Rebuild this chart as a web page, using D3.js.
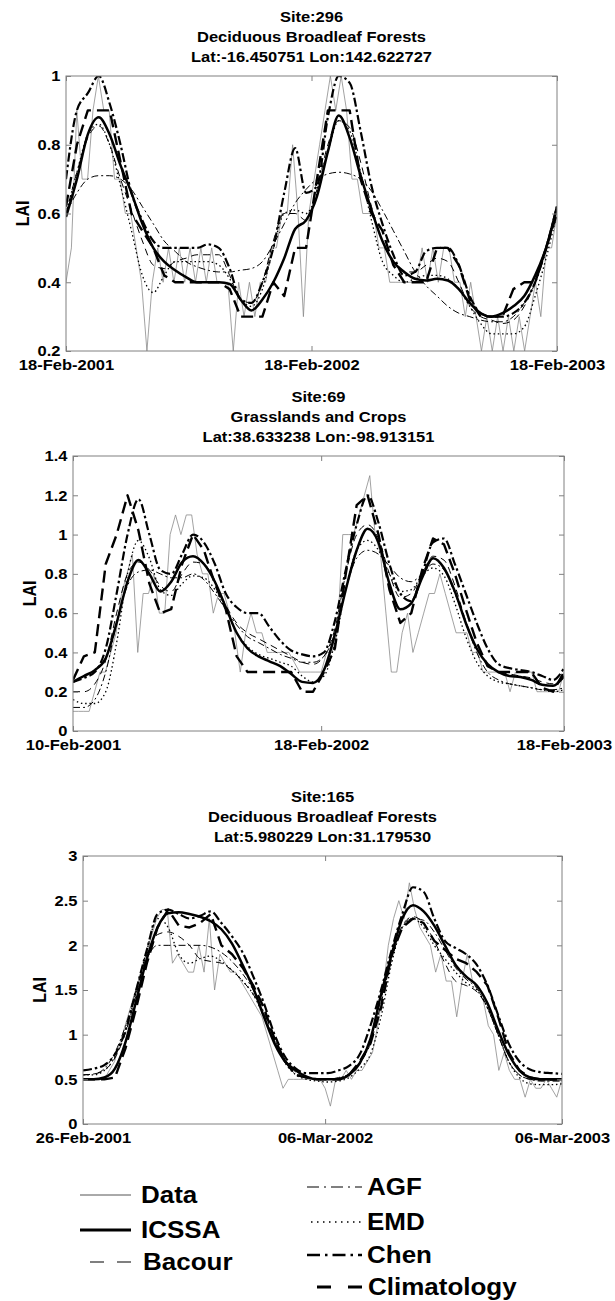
<!DOCTYPE html>
<html><head><meta charset="utf-8">
<script src="https://cdn.jsdelivr.net/npm/d3@7"></script>
<style>
body{margin:0;background:#fff}
text{font-family:"Liberation Sans",Arial,Helvetica,sans-serif;font-weight:bold;fill:#000}
</style>
</head><body>
<svg id="chart" width="615" height="1301"></svg>
<script>
// ---------------- DATA ----------------
const seriesNames = ["Data","ICSSA","Bacour","AGF","EMD","Chen","Climatology"];

// Panel 1
const p1_title = ["Site:296","Deciduous Broadleaf Forests","Lat:-16.450751 Lon:142.622727"];
const p1_xticks = ["2001-02-18","2002-02-18","2003-02-18"];
const p1_yticks = [0.2,0.4,0.6,0.8,1];
const p1_ydomain = [0.2,1];
const p1_data = [0.4,0.5,0.9,0.7,0.7,0.9,1.0,0.9,0.9,0.7,0.7,0.6,0.6,0.5,0.4,0.2,0.4,0.5,0.4,0.5,0.4,0.5,0.4,0.5,0.4,0.5,0.4,0.5,0.4,0.4,0.4,0.2,0.4,0.3,0.4,0.3,0.4,0.4,0.5,0.5,0.6,0.6,0.8,0.6,0.3,0.6,0.7,0.8,0.9,1.0,0.9,1.0,0.9,0.7,0.7,0.6,0.6,0.6,0.5,0.5,0.4,0.4,0.4,0.4,0.4,0.4,0.5,0.4,0.5,0.4,0.5,0.5,0.4,0.4,0.3,0.4,0.3,0.2,0.3,0.2,0.3,0.2,0.3,0.2,0.3,0.2,0.3,0.4,0.3,0.5,0.5,0.6];
const p1_icssa = [0.59,0.70,0.83,0.88,0.83,0.74,0.66,0.57,0.50,0.46,0.435,0.415,0.40,0.40,0.40,0.395,0.35,0.318,0.35,0.40,0.47,0.555,0.58,0.65,0.78,0.885,0.82,0.71,0.61,0.52,0.46,0.43,0.41,0.405,0.41,0.405,0.38,0.34,0.31,0.30,0.31,0.33,0.36,0.42,0.50,0.62];
const p1_bacour = [0.60,0.72,0.82,0.855,0.80,0.70,0.61,0.52,0.45,0.44,0.46,0.47,0.48,0.48,0.48,0.42,0.35,0.34,0.40,0.52,0.60,0.60,0.58,0.67,0.80,0.87,0.85,0.75,0.62,0.52,0.46,0.43,0.43,0.45,0.47,0.46,0.40,0.33,0.30,0.29,0.28,0.29,0.33,0.40,0.50,0.62];
const p1_agf = [0.60,0.66,0.70,0.71,0.71,0.70,0.67,0.62,0.57,0.52,0.49,0.46,0.445,0.435,0.43,0.43,0.435,0.44,0.46,0.51,0.57,0.63,0.67,0.70,0.715,0.72,0.715,0.70,0.665,0.61,0.55,0.49,0.43,0.39,0.36,0.33,0.31,0.30,0.29,0.285,0.285,0.30,0.34,0.40,0.49,0.61];
const p1_emd = [0.60,0.72,0.83,0.86,0.80,0.68,0.55,0.42,0.37,0.42,0.46,0.46,0.46,0.46,0.45,0.41,0.35,0.33,0.38,0.50,0.60,0.61,0.60,0.66,0.78,0.87,0.84,0.72,0.58,0.46,0.42,0.40,0.41,0.42,0.42,0.41,0.38,0.33,0.28,0.25,0.25,0.25,0.27,0.36,0.47,0.60];
const p1_chen = [0.70,0.90,0.95,1.0,0.92,0.80,0.66,0.58,0.52,0.50,0.50,0.50,0.50,0.51,0.50,0.44,0.35,0.34,0.40,0.50,0.66,0.79,0.66,0.68,0.88,1.0,0.98,0.84,0.68,0.57,0.48,0.42,0.43,0.49,0.50,0.50,0.45,0.36,0.31,0.30,0.30,0.31,0.34,0.40,0.50,0.62];
const p1_clim = [0.62,0.8,0.9,0.9,0.9,0.75,0.6,0.55,0.5,0.42,0.4,0.4,0.4,0.4,0.4,0.38,0.3,0.3,0.3,0.4,0.36,0.5,0.5,0.7,0.9,0.9,0.9,0.7,0.6,0.55,0.45,0.4,0.4,0.4,0.5,0.5,0.45,0.35,0.3,0.3,0.3,0.38,0.4,0.4,0.5,0.6];

// Panel 2
const p2_title = ["Site:69","Grasslands and Crops","Lat:38.633238 Lon:-98.913151"];
const p2_xticks = ["2001-02-10","2002-02-18","2003-02-18"];
const p2_yticks = [0,0.2,0.4,0.6,0.8,1,1.2,1.4];
const p2_ydomain = [0,1.4];
const p2_data = [0.1,0.1,0.1,0.1,0.2,0.3,0.3,0.4,0.5,0.7,0.8,0.9,0.4,0.7,0.7,0.8,0.6,0.6,1.0,1.1,1.0,1.1,1.1,0.9,0.8,0.8,0.6,0.7,0.7,0.6,0.5,0.3,0.5,0.6,0.5,0.5,0.4,0.4,0.4,0.4,0.4,0.35,0.3,0.3,0.3,0.3,0.3,0.4,0.4,0.5,1.0,1.0,1.0,1.1,1.2,1.3,1.0,0.9,0.6,0.3,0.3,0.5,0.6,0.4,0.5,0.6,0.7,0.7,0.8,0.7,0.6,0.5,0.5,0.5,0.4,0.4,0.3,0.3,0.3,0.3,0.3,0.2,0.3,0.3,0.3,0.3,0.2,0.2,0.2,0.2,0.2,0.3];
const p2_icssa = [0.25,0.28,0.31,0.37,0.55,0.76,0.87,0.80,0.71,0.76,0.86,0.89,0.85,0.76,0.63,0.50,0.42,0.38,0.355,0.33,0.29,0.25,0.245,0.31,0.49,0.72,0.92,1.03,0.96,0.75,0.62,0.65,0.78,0.88,0.83,0.71,0.55,0.42,0.34,0.30,0.28,0.275,0.26,0.235,0.23,0.28];
const p2_bacour = [0.20,0.20,0.24,0.36,0.60,0.80,0.86,0.82,0.74,0.71,0.80,0.86,0.85,0.76,0.64,0.55,0.50,0.47,0.44,0.41,0.38,0.35,0.34,0.38,0.52,0.80,1.00,1.05,0.98,0.80,0.68,0.70,0.80,0.89,0.87,0.74,0.56,0.42,0.34,0.30,0.29,0.28,0.27,0.25,0.24,0.27];
const p2_agf = [0.12,0.12,0.16,0.30,0.55,0.74,0.81,0.82,0.80,0.78,0.78,0.80,0.77,0.70,0.62,0.54,0.48,0.45,0.42,0.39,0.37,0.35,0.35,0.38,0.50,0.72,0.88,0.92,0.90,0.84,0.78,0.76,0.80,0.85,0.82,0.70,0.55,0.40,0.30,0.26,0.24,0.23,0.22,0.21,0.21,0.22];
const p2_emd = [0.16,0.14,0.14,0.20,0.45,0.80,0.97,0.88,0.72,0.69,0.75,0.79,0.78,0.72,0.62,0.50,0.43,0.39,0.37,0.35,0.33,0.28,0.25,0.28,0.45,0.72,0.92,0.97,0.92,0.80,0.71,0.72,0.79,0.83,0.79,0.65,0.48,0.35,0.28,0.25,0.24,0.23,0.22,0.21,0.20,0.21];
const p2_chen = [0.25,0.27,0.30,0.42,0.70,1.00,1.18,1.00,0.82,0.80,0.90,1.00,0.96,0.85,0.70,0.63,0.60,0.60,0.53,0.46,0.41,0.39,0.38,0.40,0.56,0.82,1.05,1.20,1.06,0.85,0.70,0.66,0.80,0.96,0.98,0.85,0.70,0.55,0.42,0.34,0.32,0.31,0.30,0.28,0.26,0.32];
const p2_clim = [0.26,0.38,0.40,0.85,1.00,1.20,1.02,0.75,0.60,0.62,0.85,1.00,0.92,0.75,0.62,0.38,0.30,0.30,0.30,0.30,0.30,0.20,0.20,0.30,0.42,0.80,1.15,1.20,1.00,0.72,0.55,0.60,0.82,0.98,0.95,0.80,0.62,0.45,0.33,0.30,0.30,0.30,0.30,0.22,0.20,0.30];

// Panel 3
const p3_title = ["Site:165","Deciduous Broadleaf Forests","Lat:5.980229 Lon:31.179530"];
const p3_xticks = ["2001-02-26","2002-03-06","2003-03-06"];
const p3_yticks = [0,0.5,1,1.5,2,2.5,3];
const p3_ydomain = [0,3];
const p3_data = [0.5,0.5,0.5,0.5,0.5,0.6,0.7,0.9,1.1,1.3,1.5,1.7,1.9,2.1,2.3,2.4,2.4,1.8,1.9,1.8,1.7,1.7,2.0,1.7,2.3,1.5,1.9,1.8,1.7,1.7,1.6,1.5,1.4,1.3,1.2,1.0,0.8,0.6,0.4,0.5,0.5,0.5,0.5,0.5,0.5,0.5,0.4,0.2,0.5,0.5,0.6,0.5,0.6,0.6,0.7,0.8,1.1,1.5,2.0,2.3,2.5,2.3,2.7,2.4,2.2,2.1,2.0,1.7,1.9,1.6,1.6,1.2,1.6,1.9,1.6,1.5,1.4,1.1,1.0,0.6,0.8,0.6,0.5,0.5,0.3,0.5,0.4,0.4,0.5,0.4,0.3,0.5];
const p3_icssa = [0.50,0.50,0.52,0.62,0.92,1.38,1.85,2.20,2.36,2.37,2.35,2.32,2.27,2.18,2.02,1.78,1.52,1.20,0.90,0.70,0.60,0.53,0.50,0.50,0.50,0.55,0.68,0.95,1.45,1.90,2.30,2.45,2.38,2.22,2.00,1.78,1.65,1.55,1.35,1.05,0.78,0.60,0.52,0.50,0.50,0.50];
const p3_bacour = [0.55,0.56,0.60,0.74,1.02,1.45,1.90,2.12,2.15,2.10,2.00,1.85,1.82,1.80,1.72,1.60,1.45,1.22,0.92,0.68,0.56,0.52,0.50,0.50,0.52,0.56,0.68,0.90,1.35,1.85,2.22,2.32,2.25,2.05,1.80,1.60,1.55,1.48,1.30,1.00,0.70,0.55,0.50,0.49,0.49,0.50];
const p3_agf = [0.55,0.56,0.62,0.80,1.10,1.50,1.85,2.00,2.00,2.00,2.00,2.00,1.98,1.92,1.82,1.68,1.50,1.25,0.95,0.72,0.58,0.52,0.50,0.50,0.51,0.56,0.68,0.95,1.40,1.85,2.20,2.30,2.28,2.15,1.95,1.75,1.62,1.52,1.30,1.00,0.70,0.55,0.50,0.48,0.48,0.48];
const p3_emd = [0.55,0.55,0.60,0.75,1.05,1.48,1.95,2.30,2.20,1.90,1.80,1.85,1.88,1.82,1.72,1.60,1.45,1.20,0.92,0.68,0.55,0.50,0.48,0.47,0.48,0.52,0.62,0.78,1.20,1.80,2.20,2.30,2.20,2.00,1.85,1.70,1.58,1.50,1.30,1.00,0.70,0.52,0.45,0.44,0.44,0.45];
const p3_chen = [0.60,0.62,0.66,0.78,1.05,1.50,1.95,2.35,2.40,2.35,2.30,2.33,2.38,2.25,2.10,1.92,1.65,1.35,1.00,0.75,0.62,0.57,0.57,0.57,0.60,0.65,0.78,1.10,1.50,1.95,2.35,2.65,2.60,2.30,2.05,1.97,1.90,1.78,1.55,1.22,0.90,0.70,0.61,0.58,0.57,0.56];
const p3_clim = [0.50,0.50,0.50,0.52,0.85,1.30,1.80,2.20,2.40,2.22,2.20,2.25,2.35,2.00,1.90,1.75,1.55,1.30,0.95,0.70,0.55,0.52,0.50,0.50,0.50,0.55,0.70,0.90,1.30,1.90,2.20,2.30,2.25,2.05,1.95,1.85,1.80,1.70,1.55,1.20,0.80,0.60,0.52,0.50,0.50,0.50];

// ---------------- LAYOUT / STYLE ----------------
const panels = [
  {title:p1_title, xt:p1_xticks, yt:p1_yticks, yd:p1_ydomain,
   series:[p1_data,p1_icssa,p1_bacour,p1_agf,p1_emd,p1_chen,p1_clim],
   box:{l:66,r:557,t:76,b:351}},
  {title:p2_title, xt:p2_xticks, yt:p2_yticks, yd:p2_ydomain,
   series:[p2_data,p2_icssa,p2_bacour,p2_agf,p2_emd,p2_chen,p2_clim],
   box:{l:73,r:564,t:456,b:731}},
  {title:p3_title, xt:p3_xticks, yt:p3_yticks, yd:p3_ydomain,
   series:[p3_data,p3_icssa,p3_bacour,p3_agf,p3_emd,p3_chen,p3_clim],
   box:{l:83,r:562,t:856,b:1124}}
];
const styles = {
  "Data":{stroke:"#8a8a8a",w:0.8,dash:null,curve:d3.curveLinear},
  "ICSSA":{stroke:"#000",w:2.5,dash:null,curve:d3.curveMonotoneX},
  "Bacour":{stroke:"#000",w:1,dash:"7,5",curve:d3.curveMonotoneX},
  "AGF":{stroke:"#000",w:1,dash:"7,3,2,3",curve:d3.curveMonotoneX},
  "EMD":{stroke:"#000",w:1.3,dash:"1.5,2.8",curve:d3.curveMonotoneX},
  "Chen":{stroke:"#000",w:2.2,dash:"9,3,2.5,3",curve:d3.curveMonotoneX},
  "Climatology":{stroke:"#000",w:2.4,dash:"12,6",curve:d3.curveLinear}
};
const drawOrder = ["Data","AGF","EMD","Bacour","Climatology","Chen","ICSSA"];
const parse = d3.timeParse("%Y-%m-%d");
const fmt = d3.timeFormat("%d-%b-%Y");
const AX = "#808080";
const FS = 15, SX = 1.1;   // font size and horizontal stretch of the reference text

const svg = d3.select("#chart");

function stretchedText(g, x, y, txt, size, sx, anchor){
  return g.append("text").attr("transform",`translate(${x},${y}) scale(${sx},1)`)
    .attr("text-anchor",anchor||"start").attr("font-size",size).text(txt);
}

panels.forEach((p,pi)=>{
  const b = p.box;
  const dates = p.xt.map(parse);
  const x = d3.scaleTime().domain([dates[0],dates[2]]).range([b.l,b.r]);
  const y = d3.scaleLinear().domain(p.yd).range([b.b,b.t]);
  const g = svg.append("g");
  const cid = "clip"+pi;
  g.append("clipPath").attr("id",cid).append("rect")
    .attr("x",b.l).attr("y",b.t).attr("width",b.r-b.l).attr("height",b.b-b.t);

  // titles
  const cx = (b.l+b.r)/2;
  p.title.forEach((t,i)=> stretchedText(g, cx, b.t-54+20*i, t, FS, SX, "middle"));

  // lines
  const lg = g.append("g").attr("clip-path",`url(#${cid})`);
  const t0 = +dates[0], t1 = +dates[2];
  drawOrder.forEach(name=>{
    const vals = p.series[seriesNames.indexOf(name)];
    const n = vals.length;
    const pts = vals.map((v,i)=>[new Date(t0+(t1-t0)*i/(n-1)), v]);
    const st = styles[name];
    const line = d3.line().x(d=>x(d[0])).y(d=>y(d[1])).curve(st.curve);
    lg.append("path").attr("d",line(pts)).attr("fill","none")
      .attr("stroke",st.stroke).attr("stroke-width",st.w)
      .attr("stroke-dasharray",st.dash).attr("stroke-linejoin","round");
  });

  // box
  g.append("rect").attr("x",b.l).attr("y",b.t).attr("width",b.r-b.l).attr("height",b.b-b.t)
    .attr("fill","none").attr("stroke",AX).attr("stroke-width",1);

  const style = sel=>{
    sel.select(".domain").remove();
    sel.attr("font-family",null).attr("font-size",null);
    sel.selectAll(".tick line").attr("stroke",AX);
    sel.selectAll(".tick text").attr("font-size",FS).attr("fill","#000")
      .attr("transform",`scale(${SX},1)`);
  };
  g.append("g").attr("transform",`translate(0,${b.b})`)
    .call(d3.axisBottom(x).tickValues(dates).tickFormat(fmt).tickSizeInner(-5).tickSizeOuter(0).tickPadding(8)).call(style);
  g.append("g").attr("transform",`translate(0,${b.t})`)
    .call(d3.axisTop(x).tickValues(dates).tickFormat("").tickSizeInner(-5).tickSizeOuter(0)).call(style);
  g.append("g").attr("transform",`translate(${b.l},0)`)
    .call(d3.axisLeft(y).tickValues(p.yt).tickFormat(d=>String(d)).tickSizeInner(-5).tickSizeOuter(0).tickPadding(5)).call(style);
  g.append("g").attr("transform",`translate(${b.r},0)`)
    .call(d3.axisRight(y).tickValues(p.yt).tickFormat("").tickSizeInner(-5).tickSizeOuter(0)).call(style);

  // y label
  const cy = (b.t+b.b)/2;
  g.append("text").attr("transform",`translate(${b.l-37},${cy}) scale(${SX},1) rotate(-90)`)
    .attr("text-anchor","middle").attr("font-size",FS+1).text("LAI");
});

// ---------------- LEGEND ----------------
const legendItems = [
  {name:"Data", x1:80, x2:131, tx:141, cy:1195, dash:null},
  {name:"ICSSA", x1:80, x2:131, tx:141, cy:1230, dash:null},
  {name:"Bacour", x1:90, x2:131, tx:143, cy:1262, dash:"14,13"},
  {name:"AGF", x1:307, x2:362, tx:367, cy:1187, dash:"12,5,2,5"},
  {name:"EMD", x1:311, x2:362, tx:367, cy:1222, dash:"1.5,4.5"},
  {name:"Chen", x1:307, x2:362, tx:367, cy:1255, dash:"13,5,2.5,5"},
  {name:"Climatology", x1:317, x2:362, tx:368, cy:1287, dash:"14,17"}
];
const lgG = svg.append("g");
legendItems.forEach(it=>{
  const st = styles[it.name];
  lgG.append("line").attr("x1",it.x1).attr("x2",it.x2).attr("y1",it.cy).attr("y2",it.cy)
    .attr("stroke",it.name==="Data"?"#555":st.stroke).attr("stroke-width",Math.max(1,st.w*1.15))
    .attr("stroke-dasharray",it.dash);
  stretchedText(lgG, it.tx, it.cy+8.3, it.name, 23, 1.13, "start");
});
</script>
</body></html>
